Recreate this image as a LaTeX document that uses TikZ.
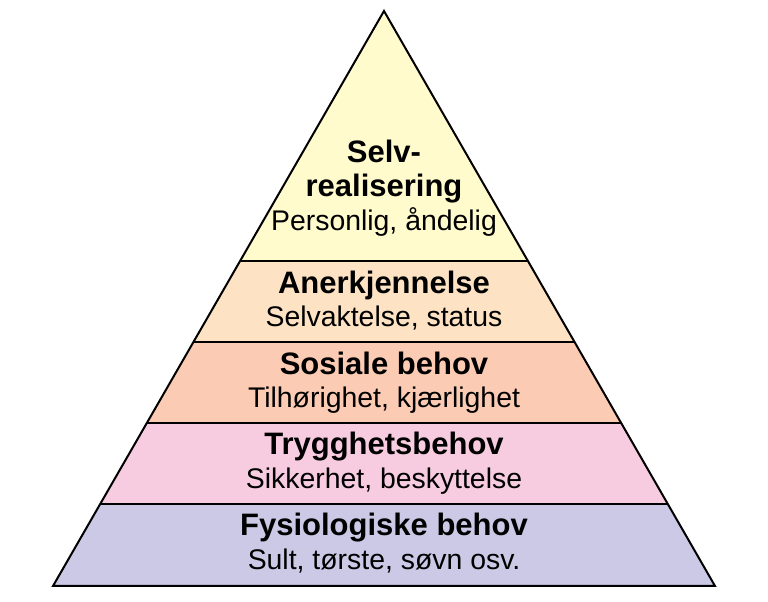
\documentclass[tikz,border=0pt]{standalone}
\usepackage{fontspec}
\setmainfont{Liberation Sans}
\definecolor{cTop}{RGB}{255,251,204}
\definecolor{cEst}{RGB}{253,227,195}
\definecolor{cSoc}{RGB}{251,203,180}
\definecolor{cSaf}{RGB}{248,204,224}
\definecolor{cPhy}{RGB}{203,201,229}
\begin{document}
\begin{tikzpicture}[x=1pt,y=1pt,
  layer/.style={draw=black,line width=2pt,line join=miter},
  ttl/.style={anchor=base,inner sep=0pt,font=\fontsize{31}{35}\selectfont\bfseries},
  sub/.style={anchor=base,inner sep=0pt,font=\fontsize{28.4}{32}\selectfont}]
\fill[white] (0,0) rectangle (768,602);
\useasboundingbox (0,0) rectangle (768,602);
% apex py=11 -> y=591 ; boundaries py 261,342,423,504,586 -> y 341,260,179,98,16
\coordinate (apex) at (384,591);
\coordinate (l1) at (240.1,341); \coordinate (r1) at (527.9,341);
\coordinate (l2) at (193.4,260); \coordinate (r2) at (574.6,260);
\coordinate (l3) at (146.8,179); \coordinate (r3) at (621.2,179);
\coordinate (l4) at (100.2,98);  \coordinate (r4) at (667.8,98);
\coordinate (l5) at (53,16);     \coordinate (r5) at (715,16);
\path[fill=cTop] (apex) -- (r1) -- (l1) -- cycle;
\path[fill=cEst] (l1) -- (r1) -- (r2) -- (l2) -- cycle;
\path[fill=cSoc] (l2) -- (r2) -- (r3) -- (l3) -- cycle;
\path[fill=cSaf] (l3) -- (r3) -- (r4) -- (l4) -- cycle;
\path[fill=cPhy] (l4) -- (r4) -- (r5) -- (l5) -- cycle;
\draw[layer] (apex) -- (r5) -- (l5) -- cycle;
\draw[layer] (l1) -- (r1);
\draw[layer] (l2) -- (r2);
\draw[layer] (l3) -- (r3);
\draw[layer] (l4) -- (r4);
% texts
\node[ttl] (t1a) at (384,439) {Selv-};
\node[ttl] (t1b) at (384,405) {realisering};
\node[sub] (s1) at (384,371) {Personlig, åndelig};
\node[ttl] (t2) at (384,308) {Anerkjennelse};
\node[sub] (s2) at (384,275) {Selvaktelse, status};
\node[ttl] (t3) at (384,227) {Sosiale behov};
\node[sub] (s3) at (384,194) {Tilhørighet, kjærlighet};
\node[ttl] (t4) at (384,147) {Trygghetsbehov};
\node[sub] (s4) at (384,113) {Sikkerhet, beskyttelse};
\node[ttl] (t5) at (384,66) {Fysiologiske behov};
\node[sub] (s5) at (384,32) {Sult, tørste, søvn osv.};
\end{tikzpicture}
\end{document}
